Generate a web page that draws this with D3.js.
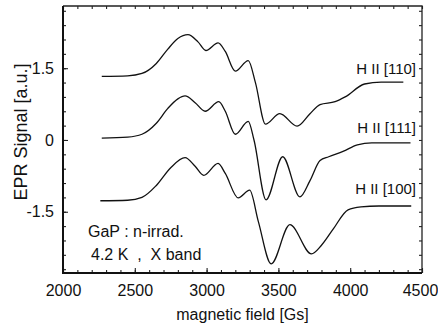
<!DOCTYPE html>
<html>
<head>
<meta charset="utf-8">
<script src="https://cdnjs.cloudflare.com/ajax/libs/d3/7.8.5/d3.min.js"></script>
<style>
  body { margin: 0; background: #fff; }
  text { font-family: "Liberation Sans", Arial, sans-serif; fill: #111; }
</style>
</head>
<body>
<div id="chart"></div>
<script>
  // valores (campo en Gs, senal en u.a.)
  var field110 = [2270, 2450, 2550, 2650, 2730, 2800, 2870, 2940, 2995, 3080, 3130, 3200, 3290, 3340, 3410, 3510, 3630, 3720, 3790, 3895, 3965, 4100, 4215, 4370];
  var signal110 = [1.33, 1.34, 1.39, 1.60, 1.90, 2.12, 2.20, 2.05, 1.87, 2.03, 1.85, 1.44, 1.66, 1.20, 0.33, 0.55, 0.29, 0.55, 0.74, 0.80, 0.90, 1.17, 1.21, 1.21];

  var field111 = [2270, 2450, 2550, 2650, 2730, 2800, 2850, 2920, 2990, 3085, 3130, 3200, 3290, 3330, 3414, 3530, 3650, 3720, 3790, 3850, 3950, 4050, 4150, 4420];
  var signal111 = [0.04, 0.06, 0.12, 0.35, 0.66, 0.86, 0.92, 0.78, 0.60, 0.80, 0.60, 0.12, 0.39, 0.00, -1.25, -0.35, -1.19, -0.85, -0.43, -0.35, -0.24, -0.10, -0.06, -0.06];

  var field100 = [2260, 2450, 2550, 2650, 2750, 2850, 2920, 2980, 3080, 3130, 3220, 3300, 3360, 3450, 3580, 3730, 3800, 3880, 3985, 4075, 4200, 4425];
  var signal100 = [-1.27, -1.26, -1.20, -0.95, -0.58, -0.37, -0.55, -0.74, -0.49, -0.70, -1.21, -1.05, -1.70, -2.59, -1.77, -2.38, -2.20, -1.87, -1.46, -1.40, -1.38, -1.38];

  var seriesLabels = ["H II [110]", "H II [111]", "H II [100]"];
  var xMajorTicks = [2000, 2500, 3000, 3500, 4000, 4500];
  var yMajorTicks = [-1.5, 0, 1.5];
  var yTickLabels = ["-1.5", "0", "1.5"];

  var width = 438, height = 330;
  var margin = {top: 6, right: 16, bottom: 57, left: 63};

  var svg = d3.select("#chart")
    .append("svg")
      .attr("width", width)
      .attr("height", height);

  var x = d3.scaleLinear().domain([2000, 4500]).range([margin.left, width - margin.right]);
  var y = d3.scaleLinear().domain([-2.78, 2.8]).range([height - margin.bottom, margin.top]);

  // ejes con marcas menores y mayores hacia dentro
  var xMinor = d3.range(2000, 4501, 100);
  var yMinor = d3.range(-2.7, 2.81, 0.3).map(function(d) { return Math.round(d * 10) / 10; });

  function minorAxis(axis, ticks) {
    return axis.tickValues(ticks).tickSize(-3).tickFormat("");
  }

  var bottomY = y.range()[0], topY = y.range()[1];
  var leftX = x.range()[0], rightX = x.range()[1];

  svg.append("g").attr("transform", "translate(0," + bottomY + ")").call(minorAxis(d3.axisBottom(x), xMinor));
  svg.append("g").attr("transform", "translate(0," + topY + ")").call(minorAxis(d3.axisTop(x), xMinor));
  svg.append("g").attr("transform", "translate(" + leftX + ",0)").call(minorAxis(d3.axisLeft(y), yMinor));
  svg.append("g").attr("transform", "translate(" + rightX + ",0)").call(minorAxis(d3.axisRight(y), yMinor));

  var xAxis = svg.append("g")
    .attr("transform", "translate(0," + bottomY + ")")
    .call(d3.axisBottom(x).tickValues(xMajorTicks).tickSize(-5).tickPadding(12).tickFormat(d3.format("d")));
  var yAxis = svg.append("g")
    .attr("transform", "translate(" + leftX + ",0)")
    .call(d3.axisLeft(y).tickValues(yMajorTicks).tickSize(-5).tickPadding(9)
      .tickFormat(function(d, i) { return yTickLabels[i]; }));

  svg.selectAll(".domain").remove();
  svg.selectAll(".tick line").attr("stroke", "#222").attr("stroke-width", 1.1);
  svg.selectAll(".tick text").style("font-size", "16px").style("font-family", "'Liberation Sans', Arial, sans-serif").attr("fill", "#111");
  // la ultima etiqueta toca el borde derecho
  xAxis.selectAll(".tick text").filter(function(d) { return d === 4500; }).attr("dx", -2);

  // marco
  svg.append("path")
    .attr("d", "M" + leftX + "," + topY + "H" + rightX + "V" + bottomY)
    .attr("fill", "none").attr("stroke", "#222").attr("stroke-width", 1.3);
  svg.append("path")
    .attr("d", "M" + leftX + "," + topY + "V" + bottomY + "H" + rightX)
    .attr("fill", "none").attr("stroke", "#111").attr("stroke-width", 2);

  // curvas
  var series = [
    {field: field110, signal: signal110},
    {field: field111, signal: signal111},
    {field: field100, signal: signal100}
  ];
  var line = d3.line()
    .x(function(d) { return x(d[0]); })
    .y(function(d) { return y(d[1]); })
    .curve(d3.curveMonotoneX);

  svg.selectAll("path.curve")
    .data(series)
    .enter().append("path")
      .attr("class", "curve")
      .attr("d", function(s) { return line(d3.zip(s.field, s.signal)); })
      .attr("fill", "none")
      .attr("stroke", "#111")
      .attr("stroke-width", 1.3);

  // etiquetas de las series
  var labelPos = [[4500, 1.38], [4500, 0.15], [4500, -1.13]];
  svg.selectAll("text.serie")
    .data(seriesLabels)
    .enter().append("text")
      .attr("class", "serie")
      .attr("x", function(d, i) { return x(labelPos[i][0]) - 6; })
      .attr("y", function(d, i) { return y(labelPos[i][1]); })
      .attr("text-anchor", "end")
      .style("font-size", "15px")
      .text(function(d) { return d; });

  svg.append("text").attr("x", 88).attr("y", 237).style("font-size", "16px").text("GaP : n-irrad.");
  svg.append("text").attr("x", 91).attr("y", 260).style("font-size", "16px").attr("xml:space", "preserve").text("4.2 K  ,  X band");

  // titulos de los ejes
  svg.append("text")
    .attr("x", (leftX + rightX) / 2)
    .attr("y", 320)
    .attr("text-anchor", "middle")
    .style("font-size", "16px")
    .text("magnetic field [Gs]");
  svg.append("text")
    .attr("transform", "translate(27," + 132 + ") rotate(-90)")
    .attr("text-anchor", "middle")
    .style("font-size", "18px")
    .text("EPR Signal [a.u.]");
</script>
</body>
</html>
